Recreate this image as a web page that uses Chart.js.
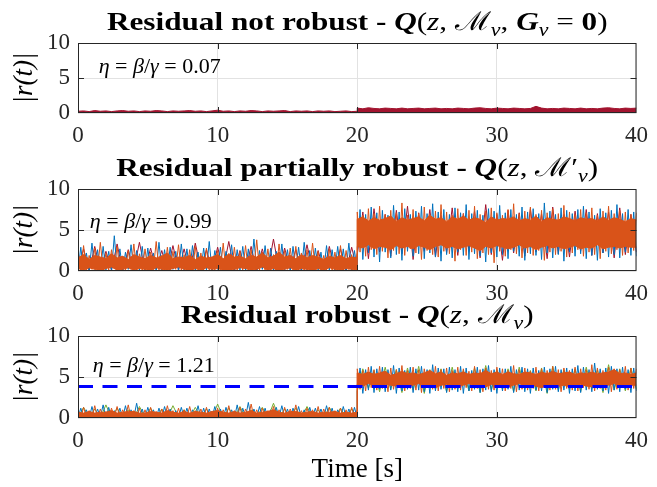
<!DOCTYPE html>
<html>
<head>
<meta charset="utf-8">
<script src="https://cdn.jsdelivr.net/npm/chart.js@4.4.1/dist/chart.umd.min.js"></script>
<style>
  html, body { margin: 0; padding: 0; background: #fff; }
  #wrap { position: relative; width: 657px; height: 487px; }
  canvas { position: absolute; left: 0; }
</style>
</head>
<body>
<div id="wrap">
  <canvas id="c1" width="657" height="150" style="top:0"></canvas>
  <canvas id="c2" width="657" height="150" style="top:150px"></canvas>
  <canvas id="c3" width="657" height="187" style="top:300px"></canvas>
</div>
<script>
// coarse time samples (band edges), 20 s twice so the step is vertical
const t = [0,0.4,0.8,1.2,1.6,2,2.4,2.8,3.2,3.6,4,4.4,4.8,5.2,5.6,6,6.4,6.8,7.2,7.6,8,8.4,8.8,9.2,9.6,10,10.4,10.8,11.2,11.6,12,12.4,12.8,13.2,13.6,14,14.4,14.8,15.2,15.6,16,16.4,16.8,17.2,17.6,18,18.4,18.8,19.2,19.6,20,
  20,20.4,20.8,21.2,21.6,22,22.4,22.8,23.2,23.6,24,24.4,24.8,25.2,25.6,26,26.4,26.8,27.2,27.6,28,28.4,28.8,29.2,29.6,30,30.4,30.8,31.2,31.6,32,32.4,32.8,33.2,33.6,34,34.4,34.8,35.2,35.6,36,36.4,36.8,37.2,37.6,38,38.4,38.8,39.2,39.6,40];
// fine time samples (noise traces)
const tf = [0,0.2,0.4,0.6,0.8,1,1.2,1.4,1.6,1.8,2,2.2,2.4,2.6,2.8,3,3.2,3.4,3.6,3.8,4,4.2,4.4,4.6,4.8,5,5.2,5.4,5.6,5.8,
  6,6.2,6.4,6.6,6.8,7,7.2,7.4,7.6,7.8,8,8.2,8.4,8.6,8.8,9,9.2,9.4,9.6,9.8,10,10.2,10.4,10.6,10.8,11,11.2,11.4,11.6,11.8,
  12,12.2,12.4,12.6,12.8,13,13.2,13.4,13.6,13.8,14,14.2,14.4,14.6,14.8,15,15.2,15.4,15.6,15.8,16,16.2,16.4,16.6,16.8,17,17.2,17.4,17.6,17.8,
  18,18.2,18.4,18.6,18.8,19,19.2,19.4,19.6,19.8,20,
  20,20.2,20.4,20.6,20.8,21,21.2,21.4,21.6,21.8,22,22.2,22.4,22.6,22.8,23,23.2,23.4,23.6,23.8,24,24.2,24.4,24.6,24.8,25,25.2,25.4,25.6,25.8,
  26,26.2,26.4,26.6,26.8,27,27.2,27.4,27.6,27.8,28,28.2,28.4,28.6,28.8,29,29.2,29.4,29.6,29.8,30,30.2,30.4,30.6,30.8,31,31.2,31.4,31.6,31.8,
  32,32.2,32.4,32.6,32.8,33,33.2,33.4,33.6,33.8,34,34.2,34.4,34.6,34.8,35,35.2,35.4,35.6,35.8,36,36.2,36.4,36.6,36.8,37,37.2,37.4,37.6,37.8,
  38,38.2,38.4,38.6,38.8,39,39.2,39.4,39.6,39.8,40];

const xTicks = [0, 10, 20, 30, 40];
const yTicks = [0, 5, 10];

// top: not robust
const notRobustRed = [0.25,0.3,0.2,0.35,0.25,0.3,0.2,0.3,0.35,0.25,0.3,0.2,0.3,0.25,0.35,0.3,0.2,0.3,0.25,0.3,0.35,0.25,0.3,0.2,0.3,0.4,0.25,0.3,0.2,0.3,0.25,0.35,0.3,0.2,0.3,0.25,0.3,0.35,0.2,0.3,0.25,0.3,0.2,0.3,0.25,0.3,0.2,0.25,0.3,0.2,0.25,
  0.7,0.6,0.75,0.65,0.6,0.7,0.65,0.6,0.7,0.6,0.65,0.7,0.6,0.65,0.7,0.6,0.65,0.6,0.7,0.65,0.6,0.7,0.75,0.65,0.6,0.7,0.65,0.6,0.7,0.65,0.6,0.65,0.95,0.7,0.6,0.65,0.6,0.7,0.65,0.6,0.7,0.6,0.65,0.6,0.7,0.75,0.65,0.6,0.7,0.65,0.7];

// middle: partially robust (band core on t, traces on tf)
const partOrangeHi = [1.6,2.0,1.4,1.9,1.7,1.5,2.1,1.6,1.8,1.4,2.0,1.7,1.5,1.9,1.6,1.8,2.2,1.5,1.7,1.6,1.9,1.4,1.8,1.6,1.7,2.0,1.5,2.1,1.7,1.8,1.5,1.9,1.7,2.2,1.6,1.8,2.3,1.7,1.9,1.5,2.0,1.6,1.9,1.7,1.4,1.8,1.6,1.9,1.5,1.7,1.6,
  6.3,6.6,6.1,6.5,6.2,6.4,6.7,6.0,6.5,6.2,6.4,6.6,6.1,6.8,6.3,6.5,6.0,6.6,6.3,6.7,6.2,6.5,6.3,5.9,6.6,6.2,6.4,6.3,6.6,6.1,6.4,6.2,6.7,6.0,6.5,6.3,6.2,6.6,6.4,6.1,6.5,6.3,6.4,6.1,6.6,6.2,6.5,6.3,6.0,6.4,6.2];
const partOrangeLo = [0.3,0.1,0.4,0.2,0.0,0.3,0.5,0.1,0.2,0.4,0.1,0.3,0.2,0.0,0.4,0.2,0.1,0.3,0.5,0.2,0.0,0.3,0.1,0.4,0.2,0.3,0.1,0.0,0.2,0.4,0.3,0.1,0.2,0.5,0.1,0.3,0.0,0.2,0.4,0.1,0.3,0.2,0.0,0.3,0.1,0.4,0.2,0.1,0.3,0.2,0.1,
  3.0,2.8,3.2,2.7,3.0,2.9,2.6,3.1,2.8,3.0,2.7,3.1,2.9,2.6,3.0,3.2,2.8,3.0,2.7,2.9,3.1,2.8,2.5,3.0,2.8,3.1,2.9,2.7,2.9,3.2,2.8,3.0,2.6,2.9,3.1,2.8,3.0,2.7,2.9,3.1,2.7,2.9,2.8,3.2,2.7,2.9,3.0,2.8,3.0,2.9,2.9];
const partOrange = [2.4,0.1,3.1,0.0,1.9,0.2,2.8,0.1,3.5,0.0,2.2,0.1,2.6,0.3,3.0,0.0,1.8,0.1,2.5,0.2,3.3,0.0,2.1,0.1,2.7,0.0,2.3,0.2,3.6,0.1,
  1.9,0.0,2.9,0.1,2.4,0.2,3.2,0.0,2.0,0.1,2.6,0.0,3.0,0.2,2.2,0.1,2.8,0.0,1.7,0.1,2.5,0.2,3.4,0.0,2.1,0.1,2.9,0.0,2.4,0.1,
  3.1,0.0,2.6,0.2,3.8,0.1,2.3,0.0,2.7,0.1,2.0,0.0,3.3,0.1,2.5,0.2,2.8,0.0,3.0,0.1,2.2,0.0,2.6,0.1,3.4,0.2,2.4,0.0,1.9,0.1,
  2.7,0.0,2.3,0.1,3.1,0.0,2.5,0.2,2.0,0.1,2.2,
  7.2,2.3,6.8,1.8,7.6,2.6,7.0,2.0,7.9,2.4,6.9,1.6,7.4,2.5,7.1,2.1,8.3,1.9,6.8,2.7,7.5,2.2,7.0,1.4,7.8,2.5,6.9,2.0,7.3,1.7,
  8.1,2.4,7.2,2.1,6.8,1.2,7.6,2.6,7.0,1.9,7.4,2.3,7.9,1.5,6.9,2.2,7.3,2.0,7.7,1.0,7.1,2.4,6.8,1.8,7.5,2.6,8.2,2.1,7.0,1.6,
  7.3,2.2,7.8,1.9,6.9,2.5,7.4,1.3,7.1,2.3,7.6,2.0,7.0,2.4,8.0,1.7,7.2,2.2,6.9,2.6,7.5,1.8,7.1,2.3,7.7,2.0,6.8,1.5,7.3,2.4,
  7.9,2.1,7.0,2.6,7.4,1.9,7.2,2.2,6.9,2.5,7.1];
const partBlue = [0.0,2.9,0.1,2.2,0.0,3.4,0.2,2.6,0.0,3.0,0.1,2.4,0.0,4.3,0.1,2.7,0.0,2.3,0.2,3.2,0.0,2.5,0.1,3.0,0.0,2.8,0.1,2.2,0.0,3.5,
  0.1,2.6,0.0,2.9,0.2,2.4,0.0,3.3,0.1,2.7,0.0,3.1,0.1,2.3,0.0,2.8,0.1,3.6,0.0,2.5,0.2,2.9,0.0,2.4,0.1,3.2,0.0,2.6,0.1,3.0,
  0.0,2.7,0.1,3.9,0.0,2.5,0.2,3.1,0.0,2.8,0.1,2.4,0.0,3.3,0.1,2.6,0.0,3.0,0.2,2.9,0.0,3.5,0.1,2.5,0.0,2.8,0.1,2.3,0.0,3.1,
  0.1,2.6,0.0,3.0,0.2,2.7,0.0,3.4,0.1,2.5,0.0,
  1.9,7.5,1.4,6.9,2.2,7.8,1.7,7.1,1.1,7.4,2.3,6.8,1.6,8.0,2.0,7.2,1.3,7.6,2.4,6.9,1.8,7.3,2.1,7.9,1.5,7.0,2.2,8.2,1.7,7.2,
  1.2,7.5,2.0,6.9,1.6,7.7,2.3,7.1,1.9,8.1,1.4,7.0,2.1,7.4,1.8,6.8,1.1,7.6,2.2,7.3,1.7,8.0,2.0,7.1,1.5,7.5,2.4,6.9,1.8,7.8,
  1.3,7.2,2.1,7.6,1.9,7.0,1.4,8.3,2.2,7.3,1.6,6.9,2.0,7.7,1.2,7.4,2.3,7.0,1.8,7.5,2.1,7.9,1.5,7.2,1.9,6.8,1.3,7.6,2.2,7.1,
  1.7,7.4,2.0,8.1,1.6,7.0,2.3,7.5,1.9,7.2,1.8];
const partRed = [0.1,2.7,0.0,3.0,0.2,2.4,0.1,3.3,0.0,2.6,0.1,3.5,0.0,2.8,0.2,2.5,0.0,3.1,0.1,2.7,0.0,3.4,0.2,2.6,0.0,2.9,0.1,3.6,0.0,2.5,0.2,3.0,0.0,2.7,0.1,3.9,0.0,2.8,0.2,2.6,0.0,3.2,0.1,2.5,0.0,3.0,0.2,2.7,0.0,2.9,0.1,
  2.0,7.2,1.5,7.6,2.3,6.9,1.8,7.4,2.1,7.9,1.4,7.1,2.4,7.5,1.7,6.8,2.2,7.7,1.9,7.0,2.5,7.3,1.6,8.1,2.0,6.9,1.3,7.4,2.2,7.1,1.8,7.6,2.3,7.0,1.5,7.8,2.1,6.9,1.7,7.3,2.4,7.5,1.9,7.0,2.2,7.2,1.6,7.7,2.0,6.9,2.3];

// bottom: robust
const robOrangeHi = [0.7,0.6,0.8,0.6,0.7,0.7,0.9,0.6,0.7,0.8,0.8,0.6,0.6,0.8,0.7,0.6,0.9,0.7,0.6,0.8,0.6,0.8,0.7,0.6,0.8,0.9,0.7,0.6,0.8,0.6,0.7,0.9,0.6,0.7,0.8,1.0,0.7,0.6,0.8,0.8,0.6,0.7,0.8,0.6,0.7,0.7,0.8,0.6,0.7,0.6,0.7,
  5.5,5.3,5.6,5.3,5.5,5.7,5.2,5.4,5.7,5.4,5.5,5.3,5.5,5.8,5.4,5.6,5.2,5.5,5.4,5.6,5.3,5.5,5.4,5.8,5.4,5.6,5.3,5.6,5.4,5.3,5.6,5.5,5.3,5.6,5.4,5.7,5.4,5.5,5.6,5.3,5.5,5.4,5.6,5.4,5.5,5.6,5.9,5.4,5.5,5.3,5.5];
const robOrangeLo = [0.1,0.0,0.1,0.0,0.1,0.1,0.0,0.1,0.0,0.1,0.0,0.1,0.0,0.0,0.1,0.0,0.1,0.1,0.0,0.1,0.0,0.0,0.1,0.1,0.0,0.1,0.0,0.1,0.0,0.0,0.1,0.0,0.1,0.0,0.1,0.1,0.0,0.0,0.1,0.0,0.1,0.0,0.0,0.1,0.0,0.1,0.1,0.0,0.1,0.0,0.1,
  4.1,3.9,4.2,4.0,3.8,4.1,4.0,3.9,4.1,3.8,4.0,4.2,3.9,4.0,3.7,4.0,4.1,3.9,3.8,4.0,4.2,3.9,4.0,3.8,4.1,3.9,4.0,3.8,4.0,4.2,3.9,4.0,3.9,3.7,4.0,4.1,3.9,4.0,3.8,4.0,4.1,3.9,3.8,4.0,3.9,4.0,4.2,3.9,3.8,4.0,4.0];
const robOrange = [1.0,0.0,1.3,0.1,0.9,0.0,1.5,0.0,1.1,0.1,0.8,0.0,1.2,0.1,1.4,0.0,1.0,0.1,1.6,0.0,0.9,0.1,1.2,0.0,1.0,0.0,1.3,0.1,0.8,0.0,
  1.1,0.0,1.5,0.1,0.9,0.0,1.2,0.0,1.0,0.1,1.4,0.0,0.9,0.1,1.1,0.0,1.3,0.0,0.8,0.1,1.2,0.0,1.0,0.1,1.5,0.0,0.9,0.1,1.3,0.0,
  1.1,0.0,1.7,0.1,1.0,0.0,1.2,0.1,0.9,0.0,1.4,0.1,1.0,0.0,1.3,0.0,1.1,0.1,1.6,0.0,0.9,0.0,1.2,0.1,1.0,0.0,1.4,0.0,1.1,0.1,
  1.3,0.0,0.9,0.1,1.2,0.0,1.0,0.0,1.3,0.1,1.0,
  6.0,3.5,5.8,3.3,6.2,3.7,5.9,3.4,6.3,3.6,5.7,3.2,6.1,3.5,5.9,3.8,6.4,3.3,5.8,3.6,6.2,3.4,5.9,3.1,6.0,3.7,5.7,3.5,6.3,3.3,
  5.9,3.6,6.1,3.2,5.8,3.5,6.2,3.4,6.0,3.7,5.7,3.3,6.3,3.6,5.9,3.2,6.1,3.5,5.8,3.4,6.2,3.7,6.0,3.3,5.8,3.6,6.4,3.2,5.9,3.5,
  6.1,3.4,5.7,3.6,6.2,3.3,6.0,3.7,5.8,3.4,6.3,3.5,5.9,3.2,6.1,3.6,5.8,3.4,6.2,3.3,6.0,3.7,5.9,3.5,6.5,3.3,6.1,3.6,5.8,3.4,
  6.2,3.2,6.0,3.5,5.9,3.7,6.3,3.4,6.1,3.6,6.0];
const robBlue = [0.0,1.2,0.1,1.0,0.0,1.4,0.0,1.1,0.1,1.6,0.0,1.3,0.0,0.9,0.1,1.2,0.0,1.5,0.0,1.0,0.1,1.8,0.0,1.1,0.0,1.3,0.1,1.0,0.0,1.2,
  0.0,1.4,0.1,1.1,0.0,0.9,0.0,1.3,0.1,1.2,0.0,1.0,0.1,1.5,0.0,1.2,0.0,1.1,0.1,1.4,0.0,1.1,0.0,1.3,0.1,1.0,0.0,1.6,0.0,1.2,
  0.1,1.9,0.0,1.1,0.0,1.4,0.1,1.2,0.0,1.0,0.0,1.3,0.1,1.5,0.0,1.1,0.0,1.2,0.1,1.4,0.0,1.0,0.0,1.3,0.1,1.2,0.0,1.1,0.0,1.5,
  0.1,1.2,0.0,1.0,0.0,1.4,0.1,1.1,0.0,1.3,0.0,
  3.3,6.1,3.0,5.9,3.4,6.3,3.1,6.0,3.5,6.2,3.2,5.9,3.4,6.4,3.0,6.1,3.3,5.8,3.5,6.2,3.1,6.0,3.4,6.3,3.2,5.9,3.0,6.5,3.3,6.1,
  3.5,6.0,3.1,6.2,3.4,5.9,3.2,6.3,3.0,6.1,3.3,5.8,3.5,6.2,3.1,6.0,3.4,6.4,3.2,5.9,3.0,6.1,3.3,6.0,3.5,6.3,3.1,5.9,3.4,6.2,
  3.2,6.0,3.0,6.1,3.4,5.8,3.3,6.2,3.1,6.0,3.5,6.3,3.2,5.9,3.4,6.1,3.0,6.0,3.3,6.4,3.1,6.2,3.4,5.9,3.2,6.7,3.5,6.0,3.3,6.1,
  3.0,6.3,3.4,6.0,3.2,6.2,3.5,5.9,3.1,6.1,3.3];
const robGreen = [0.0,1.3,0.1,1.1,0.0,1.6,0.0,1.2,0.1,1.0,0.0,1.4,0.1,1.2,0.0,1.1,0.0,1.5,0.1,1.0,0.0,1.3,0.1,1.1,0.0,1.7,0.0,1.2,0.1,1.4,0.0,1.0,0.1,1.3,0.0,1.8,0.0,1.1,0.1,1.2,0.0,1.4,0.1,1.0,0.0,1.3,0.1,1.2,0.0,1.1,0.0,
  3.3,6.0,3.6,5.8,3.2,6.2,3.5,5.9,3.1,6.1,3.4,6.3,3.0,5.9,3.5,6.0,3.2,6.2,3.6,5.8,3.3,6.1,3.1,6.4,3.4,5.9,3.5,6.0,3.2,6.2,3.6,5.8,3.3,6.1,3.0,6.3,3.4,5.9,3.5,6.0,3.2,6.2,3.6,5.9,3.1,6.5,3.4,6.0,3.3,6.1,3.5];
const threshold = 3.85;

const ORANGE = '#D95319', BLUE = '#0072BD', RED = '#A2142F', GREEN = '#77AC30';
const SERIF = '"Liberation Serif", "DejaVu Serif", serif';
const INK = '#262626';

const pts = (xs, ys) => xs.map((x, i) => ({x: x, y: ys[i]}));
const line = (xs, ys, color, extra) => Object.assign({
  data: pts(xs, ys), borderColor: color, borderWidth: 1, pointRadius: 0, fill: false
}, extra || {});

// text made of pieces with their own style: [text, style, 'sub']
function drawRich(ctx, segs, x, y, size, align, sx) {
  sx = sx || 1;
  const fontOf = s => (s[1] || '') + ' ' + (s[2] === 'sub' ? size * 0.7 : size) + 'px ' + SERIF;
  let w = 0;
  segs.forEach(s => { ctx.font = fontOf(s); w += ctx.measureText(s[0]).width; });
  ctx.save();
  ctx.translate(align === 'center' ? x - w * sx / 2 : x, y);
  ctx.scale(sx, 1);
  ctx.textAlign = 'left';
  ctx.textBaseline = 'alphabetic';
  ctx.fillStyle = '#000';
  let cx = 0;
  segs.forEach(s => {
    ctx.font = fontOf(s);
    ctx.fillText(s[0], cx, s[2] === 'sub' ? size * 0.22 : 0);
    cx += ctx.measureText(s[0]).width;
  });
  ctx.restore();
}

const axesDecor = {
  id: 'axesDecor',
  afterDraw(chart, args, o) {
    const {ctx, chartArea: a, scales: {x, y}} = chart;
    ctx.save();
    ctx.strokeStyle = INK;
    ctx.lineWidth = 1;
    ctx.beginPath();
    xTicks.slice(1, -1).forEach(v => {
      const px = Math.round(x.getPixelForValue(v)) + 0.5;
      ctx.moveTo(px, a.bottom); ctx.lineTo(px, a.bottom - 6);
      ctx.moveTo(px, a.top); ctx.lineTo(px, a.top + 6);
    });
    yTicks.slice(1, -1).forEach(v => {
      const py = Math.round(y.getPixelForValue(v)) + 0.5;
      ctx.moveTo(a.left, py); ctx.lineTo(a.left + 6, py);
      ctx.moveTo(a.right, py); ctx.lineTo(a.right - 6, py);
    });
    ctx.stroke();
    ctx.strokeRect(a.left + 0.5, a.top + 0.5, a.right - a.left - 1, a.bottom - a.top - 1);
    drawRich(ctx, o.title, (a.left + a.right) / 2, a.top - 13, 26, 'center', 1.2);
    drawRich(ctx, o.note, x.getPixelForValue(o.noteAt[0]), y.getPixelForValue(o.noteAt[1]), 22, 'left');
    ctx.restore();
  }
};

function makeChart(id, datasets, cfg) {
  return new Chart(document.getElementById(id), {
    type: 'line',
    data: {datasets: datasets},
    plugins: [axesDecor],
    options: {
      responsive: false,
      animation: false,
      devicePixelRatio: 1,
      layout: {padding: {top: cfg.padTop, right: 13, left: 0, bottom: 0}},
      plugins: {
        legend: {display: false},
        tooltip: {enabled: false},
        axesDecor: {title: cfg.title, note: cfg.note, noteAt: cfg.noteAt}
      },
      scales: {
        x: {
          type: 'linear', min: 0, max: 40,
          afterBuildTicks: s => { s.ticks = xTicks.map(v => ({value: v})); },
          afterFit: s => { s.height = cfg.xHeight; },
          grid: {color: '#e2e2e2', drawTicks: false},
          border: {display: false},
          ticks: {font: {family: SERIF, size: 23}, color: INK, padding: 9, maxRotation: 0},
          title: {display: !!cfg.xTitle, text: cfg.xTitle || '', color: '#000',
                  font: {family: SERIF, size: 27, lineHeight: 1}, padding: {top: 0, bottom: 4}}
        },
        y: {
          min: 0, max: 10,
          afterBuildTicks: s => { s.ticks = yTicks.map(v => ({value: v})); },
          afterFit: s => { s.width = 78; },
          grid: {color: '#e2e2e2', drawTicks: false},
          border: {display: false},
          ticks: {font: {family: SERIF, size: 23}, color: INK, padding: 8},
          title: {display: true, text: '|r(t)|', color: '#000',
                  font: {family: SERIF, size: 27, style: 'italic', lineHeight: 1}, padding: {top: 11, bottom: 0}}
        }
      }
    }
  });
}

makeChart('c1', [
  line(t, notRobustRed, RED, {fill: 'origin', backgroundColor: RED})
], {
  padTop: 43, xHeight: 37,
  title: [['Residual not robust - ', 'bold'], ['Q', 'bold italic'], ['(', ''], ['z', 'italic'], [', ', ''], ['ℳ', ''], ['v', 'italic', 'sub'],
          [', ', ''], ['G', 'bold italic'], ['v', 'italic', 'sub'], [' = ', ''], ['0', 'bold'], [')', '']],
  note: [['η', 'italic'], [' = ', ''], ['β', 'italic'], ['/', ''], ['γ', 'italic'], [' = 0.07', '']],
  noteAt: [1.48, 5.7]
});

makeChart('c2', [
  line(t, partOrangeHi, ORANGE, {fill: '+1', backgroundColor: ORANGE}),
  line(t, partOrangeLo, ORANGE),
  line(tf, partOrange, ORANGE),
  line(tf, partBlue, BLUE),
  line(t, partRed, RED)
], {
  padTop: 39, xHeight: 29,
  title: [['Residual partially robust - ', 'bold'], ['Q', 'bold italic'], ['(', ''], ['z', 'italic'], [', ', ''], ['ℳ', ''], ['′', ''], ['v', 'italic', 'sub'], [')', '']],
  note: [['η', 'italic'], [' = ', ''], ['β', 'italic'], ['/', ''], ['γ', 'italic'], [' = 0.99', '']],
  noteAt: [0.85, 5.24]
});

makeChart('c3', [
  {data: [{x: 0, y: threshold}, {x: 40, y: threshold}], borderColor: '#0000FF', borderWidth: 3,
   borderDash: [15, 9.5], pointRadius: 0, fill: false},
  line(t, robOrangeHi, ORANGE, {fill: '+1', backgroundColor: ORANGE}),
  line(t, robOrangeLo, ORANGE),
  line(tf, robOrange, ORANGE),
  line(tf, robBlue, BLUE),
  line(t, robGreen, GREEN)
], {
  padTop: 36, xHeight: 69, xTitle: 'Time [s]',
  title: [['Residual robust - ', 'bold'], ['Q', 'bold italic'], ['(', ''], ['z', 'italic'], [', ', ''], ['ℳ', ''], ['v', 'italic', 'sub'], [')', '']],
  note: [['η', 'italic'], [' = ', ''], ['β', 'italic'], ['/', ''], ['γ', 'italic'], [' = 1.21', '']],
  noteAt: [1.06, 5.6]
});
</script>
</body>
</html>
